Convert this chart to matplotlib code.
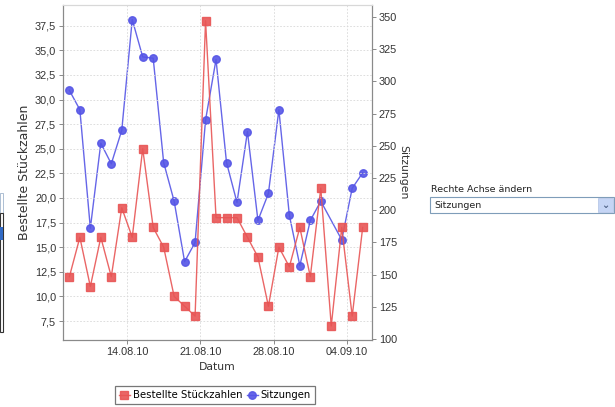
import pandas as pd
import matplotlib
matplotlib.use('Agg')
import matplotlib.pyplot as plt
import matplotlib.dates as mdates
from matplotlib.patches import Rectangle
from matplotlib.ticker import FuncFormatter, FixedLocator

# Daten
tage = pd.date_range('2010-08-08', '2010-09-05', freq='D')
stueckzahlen = [12, 16, 11, 16, 12, 19, 16, 25, 17, 15, 10, 9, 8, 38, 18, 18, 18,
                16, 14, 9, 15, 13, 17, 12, 21, 7, 17, 8, 17]
# am 02.09. fehlt der Wert fuer Sitzungen
tage_sitz = [t for t in tage if t != pd.Timestamp('2010-09-02')]
sitzungen = [293, 278, 186, 252, 236, 262, 348, 319, 318, 237, 207, 160, 175, 270,
             317, 237, 206, 261, 192, 213, 278, 196, 157, 192, 207, 177, 217, 229]
links_ticks = [7.5, 10.0, 12.5, 15.0, 17.5, 20.0, 22.5, 25.0, 27.5, 30.0, 32.5, 35.0, 37.5]
rechts_ticks = [100, 125, 150, 175, 200, 225, 250, 275, 300, 325, 350]

rot = '#e85555'
blau = '#5555e6'
grau = '#8a8a8a'
tickfont = ['Liberation Sans Narrow', 'Liberation Sans', 'DejaVu Sans']

fig = plt.figure(figsize=(6.15, 4.07), dpi=100)
W, H = 615, 407
ax = fig.add_axes([63 / W, 1 - 340 / H, (372 - 63) / W, 335 / H])
ax2 = ax.twinx()

mitte = pd.Timedelta(hours=12)
x_rot = tage + mitte
x_blau = [t + mitte for t in tage_sitz]

ax2.plot(x_blau, sitzungen, color=blau, lw=1.0, marker='o', ms=5.4, mec=blau,
         mfc=blau, label='Sitzungen', alpha=0.9)
ax.plot(x_rot, stueckzahlen, color=rot, lw=1.0, marker='s', ms=5.2, mec=rot,
        mfc=rot, label='Bestellte Stückzahlen', alpha=0.9)
ax.set_zorder(ax2.get_zorder() + 1)
ax.patch.set_visible(False)

ax.set_ylim(5.57, 39.6)
ax2.set_ylim(99.2, 359.3)
ax.set_xlim(pd.Timestamp('2010-08-14') - pd.Timedelta(days=6.11),
            pd.Timestamp('2010-09-04') + pd.Timedelta(days=2.39))

ax.yaxis.set_major_locator(FixedLocator(links_ticks))
ax.yaxis.set_major_formatter(FuncFormatter(lambda v, p: f'{v:.1f}'.replace('.', ',')))
ax2.yaxis.set_major_locator(FixedLocator(rechts_ticks))
ax.xaxis.set_major_locator(mdates.WeekdayLocator(byweekday=mdates.SA))
ax.xaxis.set_major_formatter(mdates.DateFormatter('%d.%m.%y'))

ax.grid(True, color='#d8d8d8', linestyle=(0, (2, 2)), linewidth=0.6)

for a in (ax, ax2):
    for s in a.spines.values():
        s.set_color(grau)
        s.set_linewidth(0.8)
    a.spines['top'].set_color('#d8d8d8')
    a.tick_params(colors=grau, length=3, width=0.7, pad=2, labelcolor='#333333')
    for lbl in a.get_xticklabels() + a.get_yticklabels():
        lbl.set_family(tickfont)
        lbl.set_fontsize(7.8)

ax.set_xlabel('Datum', fontsize=7.8, color='#333333', labelpad=4)
ax.set_ylabel('Bestellte Stückzahlen', fontsize=9, color='#333333', labelpad=3)
ax2.set_ylabel('Sitzungen', fontsize=7.8, color='#333333', rotation=-90, labelpad=8)

h1, l1 = ax.get_legend_handles_labels()
h2, l2 = ax2.get_legend_handles_labels()
leg = fig.legend(h1 + h2, l1 + l2, loc='upper center', ncol=2,
                 bbox_to_anchor=(215 / W, 1 - 381 / H), fontsize=7.3,
                 frameon=True, fancybox=False, handlelength=1.1,
                 handletextpad=0.3, columnspacing=0.4, borderpad=0.4)
leg.get_frame().set_edgecolor('#555555')
leg.get_frame().set_linewidth(0.9)

# Bedienelemente neben dem Diagramm
fig.text(431 / W, 1 - 190 / H, 'Rechte Achse ändern', fontsize=6.8,
         color='#222222', va='center')
fig.patches.append(Rectangle((430 / W, 1 - 213 / H), 184 / W, 16 / H,
                             transform=fig.transFigure, fc='white', ec='#7f9db9', lw=0.8))
fig.patches.append(Rectangle((598 / W, 1 - 212 / H), 15 / W, 14 / H,
                             transform=fig.transFigure, fc='#c5d5f5', ec='#b8c8e8', lw=0.6))
fig.text(605.5 / W, 1 - 205 / H, '⌄', fontsize=7, color='#4d6185',
         ha='center', va='center', fontweight='bold')
fig.text(434 / W, 1 - 205 / H, 'Sitzungen', fontsize=6.8, color='#222222', va='center')

fig.patches.append(Rectangle((0, 1 - 213 / H), 3 / W, 20 / H,
                             transform=fig.transFigure, fc='white', ec='#a0b4cc', lw=0.6))
fig.patches.append(Rectangle((0, 1 - 332 / H), 3 / W, 119 / H,
                             transform=fig.transFigure, fc='white', ec='#333333', lw=0.8))
fig.patches.append(Rectangle((0, 1 - 240 / H), 3 / W, 13 / H,
                             transform=fig.transFigure, fc='#316ac5', ec='none'))

fig.savefig('out.png', dpi=100)
